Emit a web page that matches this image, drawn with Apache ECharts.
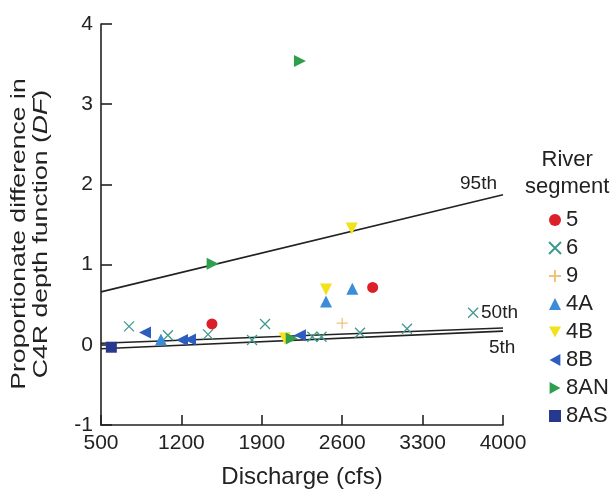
<!DOCTYPE html>
<html>
<head>
<meta charset="utf-8">
<script src="https://cdn.jsdelivr.net/npm/echarts@6/dist/echarts.min.js"></script>
<style>html,body{margin:0;padding:0;background:#fff}#c{width:615px;height:494px}</style>
</head>
<body>
<div id="c"></div>
<script>
// Data (Discharge cfs, proportionate difference DF)
var xTicks = [500, 1200, 1900, 2600, 3300, 4000];
var yTicks = [-1, 0, 1, 2, 3, 4];
var segmentNames = ['5', '6', '9', '4A', '4B', '8B', '8AN', '8AS'];
var seg5 = [[1466, 0.26], [2865, 0.715]];
var seg6 = [[744, 0.23], [1083, 0.12], [1432, 0.13], [1815, 0.06], [1928, 0.26], [2340, 0.10], [2420, 0.10], [2755, 0.15], [3164, 0.20], [3740, 0.40]];
var seg9 = [[2600, 0.27], [2130, 0.09]];
var seg4A = [[1022, 0.067], [2459, 0.54], [2688, 0.70]];
var seg4B = [[2459, 0.69], [2683, 1.45], [2100, 0.08]];
var seg8B = [[883, 0.154], [1205, 0.06], [1275, 0.065], [2232, 0.12]];
var seg8AN = [[2232, 3.54], [1472, 1.01], [2160, 0.08]];
var seg8AS = [[590, -0.03]];
var p95 = [[500, 0.66], [4000, 1.87]];
var p50 = [[500, 0.02], [4000, 0.21]];
var p5 = [[500, -0.05], [4000, 0.17]];
var percentileNames = ['95th', '50th', '5th'];

var FONT = "'Liberation Sans', Arial, sans-serif";
var chart = echarts.init(document.getElementById('c'), null, {renderer: 'canvas'});

var SYM = {
  cross: 'path://M0,0L10,10M10,0L0,10',
  plus: 'path://M5,0L5,10M0,5L10,5',
  down: 'path://M0,0L10,0L5,9Z',
  left: 'path://M9,0L9,10L0,5Z',
  right: 'path://M0,0L0,10L9,5Z'
};

function scatter(name, data, symbol, color, size, stroke) {
  return {
    name: name, type: 'scatter', data: data, symbol: symbol, symbolSize: size, z: 5,
    itemStyle: stroke ? {color: 'rgba(0,0,0,0)', borderColor: color, borderWidth: 1.3, opacity: 1} : {color: color, opacity: 1}
  };
}
function pline(name, data, off) {
  return {
    name: name, type: 'line', data: data, showSymbol: false, silent: true, z: 3,
    lineStyle: {color: '#222', width: 1.6},
    endLabel: {show: true, formatter: name, offset: off, fontFamily: FONT, fontSize: 19, color: '#222'}
  };
}

var option = {
  backgroundColor: '#fff',
  animation: false,
  grid: {left: 101, right: 112, top: 24, bottom: 69, containLabel: false},
  xAxis: {
    type: 'value', min: xTicks[0], max: xTicks[xTicks.length - 1], interval: 700,
    name: 'Discharge (cfs)', nameLocation: 'middle', nameGap: 40,
    nameTextStyle: {fontFamily: FONT, fontSize: 24, color: '#222'},
    axisLine: {onZero: false, lineStyle: {color: '#222', width: 1.6}},
    axisTick: {inside: true, length: 10, lineStyle: {color: '#222', width: 1.6}},
    axisLabel: {fontFamily: FONT, fontSize: 21, color: '#222', margin: 8, formatter: function (v) { return String(v); }},
    splitLine: {show: false}
  },
  yAxis: {
    type: 'value', min: yTicks[0], max: yTicks[yTicks.length - 1], interval: 1,
    axisLine: {show: true, onZero: false, lineStyle: {color: '#222', width: 1.6}},
    axisTick: {show: true, inside: true, length: 11, lineStyle: {color: '#222', width: 1.6}},
    axisLabel: {fontFamily: FONT, fontSize: 21, color: '#222', margin: 8},
    splitLine: {show: false}
  },
  legend: {
    data: segmentNames, orient: 'vertical', left: 543, top: 204,
    itemWidth: 12, itemHeight: 12, itemGap: 6,
    textStyle: {fontFamily: FONT, fontSize: 22, color: '#222'}
  },
  graphic: [
    {type: 'text', left: 525, top: 146, style: {text: 'River\nsegment', font: '22px ' + FONT, fill: '#222', textAlign: 'center', lineHeight: 27}},
    {type: 'text', x: 30, y: 234, rotation: Math.PI / 2, scaleX: 1.33,
      style: {text: 'Proportionate difference in\nC4R depth function ({i|DF})', font: '20px ' + FONT, fill: '#222',
        textAlign: 'center', textVerticalAlign: 'middle', lineHeight: 22, align: 'center', verticalAlign: 'middle',
        rich: {i: {fontStyle: 'italic', fontSize: 20, fontFamily: FONT}}}}
  ],
  series: [
    pline(percentileNames[0], p95, [-51, -11]),
    pline(percentileNames[1], p50, [-30, -15]),
    pline(percentileNames[2], p5, [-22, 17]),
    scatter(segmentNames[0], seg5, 'circle', '#dd1f2a', 11),
    scatter(segmentNames[1], seg6, SYM.cross, '#3f9a8c', 10, true),
    scatter(segmentNames[2], seg9, SYM.plus, '#f0c27a', 11, true),
    scatter(segmentNames[3], seg4A, 'triangle', '#3a8dd6', 12),
    scatter(segmentNames[4], seg4B, SYM.down, '#f1e21c', 12),
    scatter(segmentNames[5], seg8B, SYM.left, '#2c5dbf', 12),
    scatter(segmentNames[6], seg8AN, SYM.right, '#2e9f4c', 12),
    scatter(segmentNames[7], seg8AS, 'rect', '#27388f', 11)
  ]
};
chart.setOption(option);
</script>
</body>
</html>
